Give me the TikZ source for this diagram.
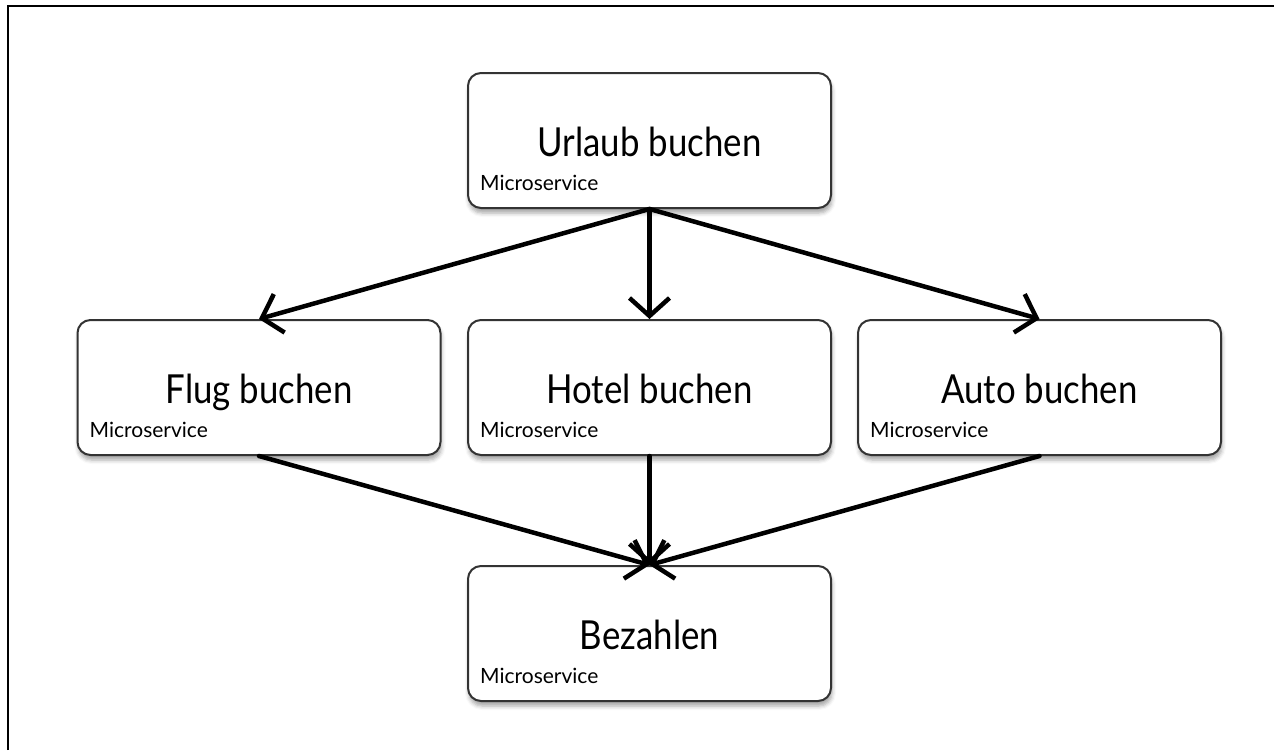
\documentclass[tikz,border=0pt]{standalone}
\usepackage{fontspec}
\setmainfont{Lato}
\newfontfamily\titlefont{Lato}[FakeStretch=0.87]
\usetikzlibrary{arrows.meta,shadows.blur}
\begin{document}
\begin{tikzpicture}[x=1pt,y=-1pt,
  svc/.style={draw=black!80, line width=2pt, rounded corners=13pt, fill=white,
    minimum width=363pt, minimum height=135pt, inner sep=0pt,
    blur shadow={shadow xshift=1pt, shadow yshift=-5pt, shadow blur radius=4pt, shadow opacity=35}},
  ttl/.style={font=\titlefont\fontsize{40}{48}\selectfont, anchor=base, inner sep=0pt},
  sub/.style={font=\fontsize{21}{25}\selectfont, anchor=base west, inner sep=0pt},
  flow/.style={line width=4.5pt, line cap=round, -{Straight Barb[length=18pt,width=40pt]}}
]
\useasboundingbox (0,0) rectangle (1274,750);
% frame
\draw[line width=2.5pt] (8,750) -- (8,6) -- (1274,6);

% services
\node[svc] (urlaub) at (649.5,140.5) {};
\node[svc] (flug)   at (259,387.5) {};
\node[svc] (hotel)  at (649.5,387.5) {};
\node[svc] (auto)   at (1039.5,387.5) {};
\node[svc] (zahl)   at (649.5,633.5) {};

\foreach \n/\t in {urlaub/Urlaub buchen, flug/Flug buchen, hotel/Hotel buchen, auto/Auto buchen, zahl/Bezahlen}{
  \node[ttl] (\n-t) at ([yshift=-84pt]\n.north) {\t};
  \node[sub] (\n-s) at ([xshift=13pt,yshift=-118pt]\n.north west) {Microservice};
}

% flows
\draw[flow] (urlaub.south) -- (flug.north);
\draw[flow] (urlaub.south) -- (hotel.north);
\draw[flow] (urlaub.south) -- (auto.north);
\draw[flow] (flug.south) -- (zahl.north);
\draw[flow] (hotel.south) -- (zahl.north);
\draw[flow] (auto.south) -- (zahl.north);
\end{tikzpicture}
\end{document}
